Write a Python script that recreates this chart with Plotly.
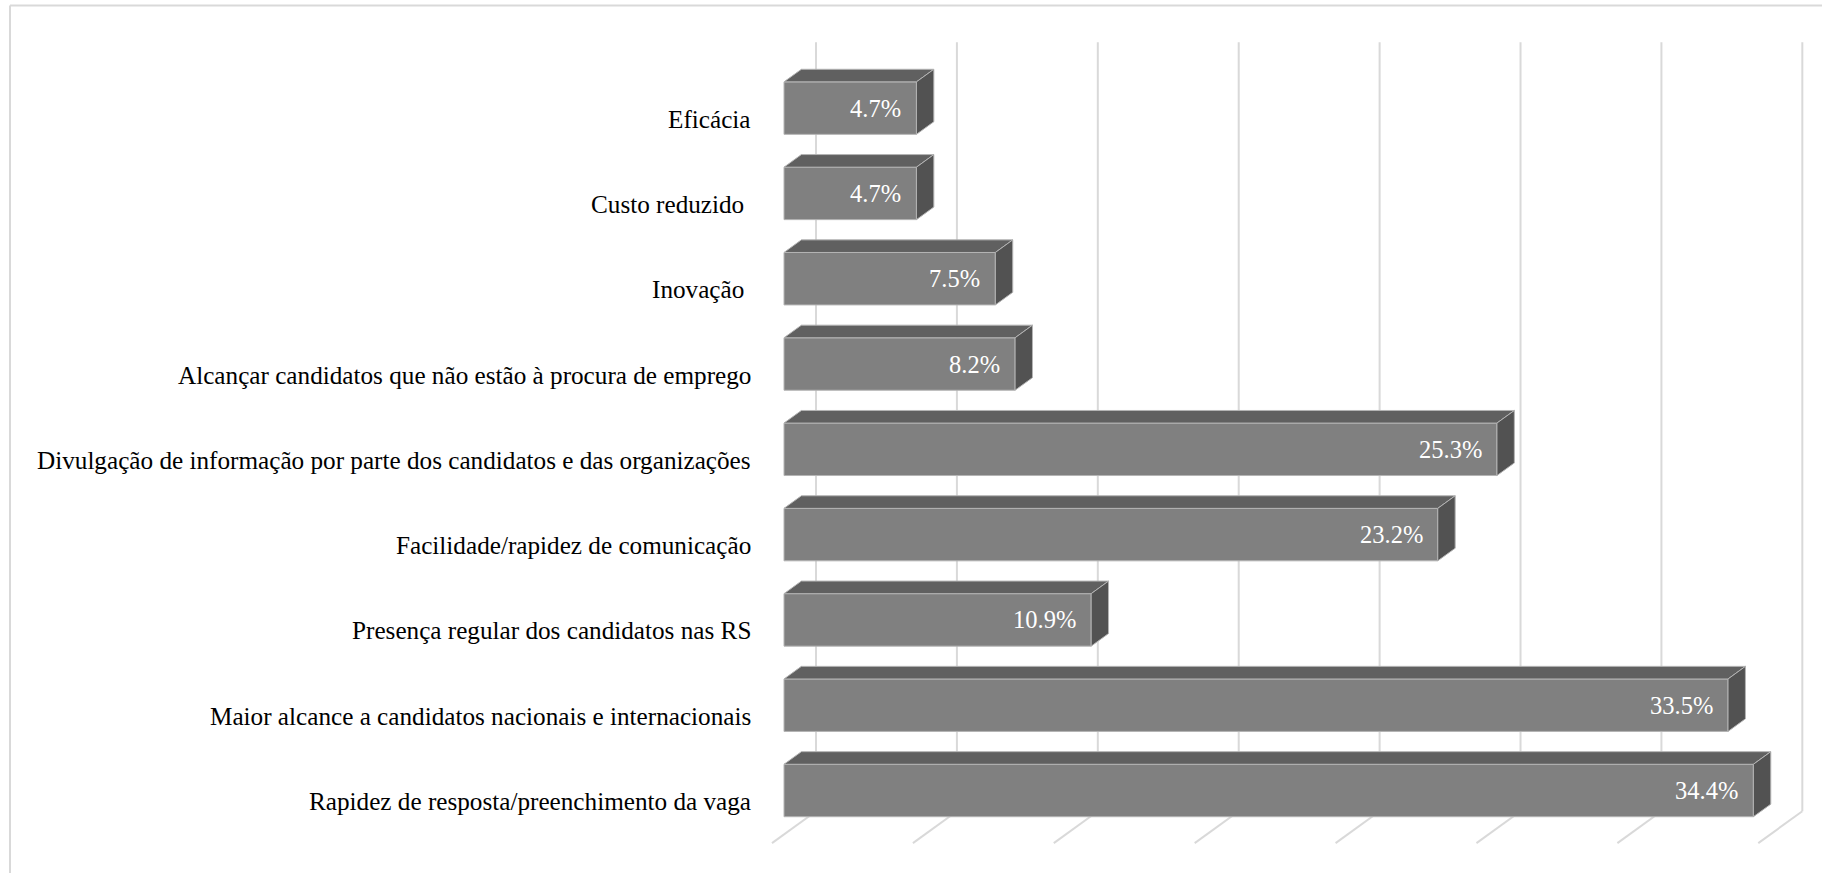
import plotly.graph_objects as go

# Categories listed bottom -> top, with their shares (%)
categories = [
    "Rapidez de resposta/preenchimento da vaga",
    "Maior alcance a candidatos nacionais e internacionais",
    "Presença regular dos candidatos nas RS",
    "Facilidade/rapidez de comunicação",
    "Divulgação de informação por parte dos candidatos e das organizações",
    "Alcançar candidatos que não estão à procura de emprego",
    "Inovação\u00a0",
    "Custo reduzido\u00a0",
    "Eficácia",
]
values = [34.4, 33.5, 10.9, 23.2, 25.3, 8.2, 7.5, 4.7, 4.7]
grid_ticks = [0, 5, 10, 15, 20, 25, 30, 35]

# --- styling / geometry of the pseudo-3D look -------------------------------
W, H = 1831, 873
PX_PER_PCT = 28.18          # horizontal pixels per percent on the bar front plane
PX_PER_CAT = 85.3           # vertical pixels per category step
X0_PX, Y0_PX = 784, 790.5   # pixel position of value 0 / first category centre
BAR_W = 0.615               # bar thickness in category units

x_range = [-X0_PX / PX_PER_PCT, (W - X0_PX) / PX_PER_PCT]
y_range = [(Y0_PX - H) / PX_PER_CAT, Y0_PX / PX_PER_CAT]

# oblique depth vector (one bar depth) in data units
DXU = 17.4 / PX_PER_PCT
DYU = 12.6 / PX_PER_CAT
D_WALL = 1.84     # back wall depth (in bar depths)
D_FRONT = -0.69   # front edge of the floor
FLOOR = -0.515
WALL_TOP = 8.5

FRONT = "#808080"
TOP = "#606060"
SIDE = "#525252"
EDGE = "#b4b4b4"
GRID = "#d9d9d9"
FONT = "Liberation Serif"

fig = go.Figure()

# front faces of the bars
fig.add_trace(go.Bar(
    x=values, y=list(range(len(values))), orientation="h", width=BAR_W,
    marker=dict(color=FRONT, line=dict(color=EDGE, width=1)),
    hoverinfo="skip", showlegend=False,
))

# top and right faces of each bar
for i, v in enumerate(values):
    yt, yb = i + BAR_W / 2, i - BAR_W / 2
    fig.add_trace(go.Scatter(
        x=[0, v, v + DXU, DXU, 0], y=[yt, yt, yt + DYU, yt + DYU, yt],
        fill="toself", fillcolor=TOP, mode="lines",
        line=dict(color=EDGE, width=1), hoverinfo="skip", showlegend=False,
    ))
    fig.add_trace(go.Scatter(
        x=[v, v + DXU, v + DXU, v, v], y=[yb, yb + DYU, yt + DYU, yt, yb],
        fill="toself", fillcolor=SIDE, mode="lines",
        line=dict(color=EDGE, width=1), hoverinfo="skip", showlegend=False,
    ))

shapes = []
# back-wall gridlines and floor lines
for g in grid_ticks:
    xw = g + DXU * D_WALL
    yw = FLOOR + DYU * D_WALL
    shapes.append(dict(type="line", xref="x", yref="y", layer="below",
                       x0=xw, x1=xw, y0=yw, y1=WALL_TOP + DYU * D_WALL,
                       line=dict(color=GRID, width=2)))
    shapes.append(dict(type="line", xref="x", yref="y", layer="below",
                       x0=xw, y0=yw,
                       x1=g + DXU * D_FRONT, y1=FLOOR + DYU * D_FRONT,
                       line=dict(color=GRID, width=2)))

# chart-area frame (top and left edges)
shapes.append(dict(type="line", xref="paper", yref="paper",
                   x0=10 / W, x1=1822 / W, y0=1 - 5.5 / H, y1=1 - 5.5 / H,
                   line=dict(color=GRID, width=2)))
shapes.append(dict(type="line", xref="paper", yref="paper",
                   x0=10 / W, x1=10 / W, y0=0, y1=1 - 5.5 / H,
                   line=dict(color=GRID, width=2)))

annotations = []
for i, (c, v) in enumerate(zip(categories, values)):
    annotations.append(dict(
        x=0, y=i, xref="x", yref="y", text=c, showarrow=False,
        xanchor="right", yanchor="middle", xshift=-31, yshift=-11,
        font=dict(family=FONT, size=25.2, color="#000000"),
    ))
    annotations.append(dict(
        x=v, y=i, xref="x", yref="y", text=f"{v:.1f}%", showarrow=False,
        xanchor="right", yanchor="middle", xshift=-13, yshift=0,
        font=dict(family=FONT, size=24.5, color="#ffffff"),
    ))

fig.update_layout(
    width=W, height=H, margin=dict(l=0, r=0, t=0, b=0),
    paper_bgcolor="white", plot_bgcolor="white",
    xaxis=dict(range=x_range, visible=False, fixedrange=True),
    yaxis=dict(range=y_range, visible=False, fixedrange=True),
    shapes=shapes, annotations=annotations, showlegend=False,
)

fig.write_html("out.html")
